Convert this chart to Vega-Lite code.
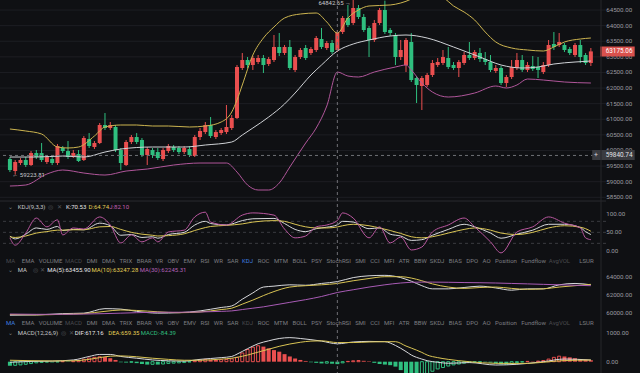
{
"$schema":"https://vega.github.io/schema/vega-lite/v6.json",
"width":606,"height":373,
"autosize":{"type":"none"},
"padding":{"left":0,"top":0,"right":34,"bottom":0},
"background":"#0f1013",
"config":{"view":{"stroke":null},"font":"Roboto",
"line":{"strokeWidth":1,"interpolate":"monotone"},
"text":{"font":"Roboto","fontSize":6,"baseline":"middle","align":"left"}},
"datasets":{
"candles":[{"i":0,"o":59726,"h":59790,"l":59309,"c":59373,"m":-140},
{"i":1,"o":59341,"h":59694,"l":59223.81,"c":59630,"m":-125},
{"i":2,"o":59598,"h":59758,"l":59534,"c":59694,"m":-110},
{"i":3,"o":59694,"h":59790,"l":59470,"c":59534,"m":-90},
{"i":4,"o":59534,"h":59982,"l":59502,"c":59918,"m":-65},
{"i":5,"o":59918,"h":60014,"l":59726,"c":59790,"m":-40},
{"i":6,"o":59918,"h":60239,"l":59630,"c":59694,"m":-25},
{"i":7,"o":59630,"h":59854,"l":59566,"c":59790,"m":-15},
{"i":8,"o":59726,"h":59790,"l":59534,"c":59598,"m":-25},
{"i":9,"o":59598,"h":60207,"l":59534,"c":60143,"m":-10},
{"i":10,"o":60079,"h":60143,"l":59918,"c":59982,"m":5},
{"i":11,"o":59982,"h":60303,"l":59726,"c":59790,"m":-10},
{"i":12,"o":59822,"h":60014,"l":59758,"c":59918,"m":20},
{"i":13,"o":59886,"h":60014,"l":59630,"c":59662,"m":45},
{"i":14,"o":59694,"h":60463,"l":59662,"c":60399,"m":85},
{"i":15,"o":60367,"h":60559,"l":60079,"c":60143,"m":125},
{"i":16,"o":60111,"h":60303,"l":60046,"c":60239,"m":150},
{"i":17,"o":60239,"h":60880,"l":60207,"c":60816,"m":170},
{"i":18,"o":60816,"h":61200,"l":60656,"c":60720,"m":160},
{"i":19,"o":60720,"h":60912,"l":60656,"c":60816,"m":120},
{"i":20,"o":60752,"h":60816,"l":59950,"c":60014,"m":60},
{"i":21,"o":60014,"h":60079,"l":59373,"c":59598,"m":-20},
{"i":22,"o":59534,"h":60335,"l":59502,"c":60271,"m":-30},
{"i":23,"o":60271,"h":60495,"l":60207,"c":60431,"m":-20},
{"i":24,"o":60431,"h":60559,"l":60207,"c":60271,"m":-50},
{"i":25,"o":60335,"h":60399,"l":59790,"c":59854,"m":-80},
{"i":26,"o":59854,"h":60111,"l":59534,"c":60046,"m":-100},
{"i":27,"o":60014,"h":60079,"l":59758,"c":59854,"m":-90},
{"i":28,"o":59950,"h":60079,"l":59694,"c":59758,"m":-100},
{"i":29,"o":59726,"h":60079,"l":59662,"c":60014,"m":-80},
{"i":30,"o":59982,"h":60207,"l":59918,"c":60143,"m":-60},
{"i":31,"o":60111,"h":60175,"l":59950,"c":60014,"m":-50},
{"i":32,"o":60079,"h":60143,"l":59886,"c":59950,"m":-40},
{"i":33,"o":59950,"h":60143,"l":59886,"c":60079,"m":-30},
{"i":34,"o":60046,"h":60143,"l":59790,"c":59854,"m":-10},
{"i":35,"o":59822,"h":60495,"l":59790,"c":60431,"m":30},
{"i":36,"o":60431,"h":60720,"l":60335,"c":60624,"m":60},
{"i":37,"o":60591,"h":60912,"l":60527,"c":60816,"m":80},
{"i":38,"o":60816,"h":61072,"l":60399,"c":60463,"m":70},
{"i":39,"o":60431,"h":60656,"l":60367,"c":60591,"m":60},
{"i":40,"o":60559,"h":60720,"l":60495,"c":60656,"m":70},
{"i":41,"o":60591,"h":61457,"l":60527,"c":60752,"m":80},
{"i":42,"o":60720,"h":61136,"l":60656,"c":61040,"m":100},
{"i":43,"o":61040,"h":62739,"l":61008,"c":62675,"m":150},
{"i":44,"o":62643,"h":63123,"l":62579,"c":62899,"m":300},
{"i":45,"o":62899,"h":62995,"l":62643,"c":62739,"m":420},
{"i":46,"o":62739,"h":63027,"l":62579,"c":62963,"m":500},
{"i":47,"o":62835,"h":63059,"l":62771,"c":62963,"m":550},
{"i":48,"o":62963,"h":63059,"l":62482,"c":62739,"m":520},
{"i":49,"o":62771,"h":62995,"l":62707,"c":62931,"m":460},
{"i":50,"o":62899,"h":63700,"l":62835,"c":63316,"m":400},
{"i":51,"o":63316,"h":63764,"l":63027,"c":63123,"m":345},
{"i":52,"o":63123,"h":63380,"l":63059,"c":63316,"m":260},
{"i":53,"o":63316,"h":63540,"l":62579,"c":62643,"m":180},
{"i":54,"o":62579,"h":63059,"l":62514,"c":62995,"m":110},
{"i":55,"o":62995,"h":63284,"l":62931,"c":63220,"m":60},
{"i":56,"o":63284,"h":63380,"l":62899,"c":62963,"m":25},
{"i":57,"o":63123,"h":63316,"l":63059,"c":63252,"m":-20},
{"i":58,"o":63220,"h":63668,"l":63155,"c":63604,"m":-40},
{"i":59,"o":63572,"h":63925,"l":63252,"c":63316,"m":-60},
{"i":60,"o":63284,"h":63508,"l":63220,"c":63444,"m":-50},
{"i":61,"o":63444,"h":63540,"l":63091,"c":63155,"m":-70},
{"i":62,"o":63220,"h":63861,"l":63155,"c":63796,"m":-84.39},
{"i":63,"o":63796,"h":64309,"l":63732,"c":64245,"m":-40},
{"i":64,"o":64245,"h":64662,"l":63957,"c":64021,"m":10},
{"i":65,"o":64085,"h":64842.65,"l":64021,"c":64566,"m":30},
{"i":66,"o":64566,"h":64662,"l":64213,"c":64277,"m":40},
{"i":67,"o":64277,"h":64373,"l":63796,"c":63861,"m":30},
{"i":68,"o":63925,"h":63989,"l":62995,"c":63540,"m":15},
{"i":69,"o":63540,"h":64181,"l":63476,"c":64085,"m":-40},
{"i":70,"o":64085,"h":64566,"l":64021,"c":64502,"m":-80},
{"i":71,"o":64502,"h":64800,"l":63732,"c":63796,"m":-100},
{"i":72,"o":63861,"h":63925,"l":63668,"c":63764,"m":-120},
{"i":73,"o":63700,"h":63764,"l":62739,"c":62995,"m":-170},
{"i":74,"o":62995,"h":63540,"l":62899,"c":63220,"m":-290},
{"i":75,"o":62739,"h":63604,"l":62514,"c":63540,"m":-400},
{"i":76,"o":63476,"h":63764,"l":62194,"c":62258,"m":-460},
{"i":77,"o":62322,"h":62386,"l":61521,"c":62098,"m":-480},
{"i":78,"o":62066,"h":62386,"l":61297,"c":62322,"m":-460},
{"i":79,"o":62098,"h":62482,"l":62034,"c":62418,"m":-420},
{"i":80,"o":62418,"h":62899,"l":62354,"c":62803,"m":-330},
{"i":81,"o":62739,"h":62963,"l":62675,"c":62835,"m":-250},
{"i":82,"o":62803,"h":63220,"l":62739,"c":62995,"m":-200},
{"i":83,"o":62963,"h":63316,"l":62611,"c":62675,"m":-150},
{"i":84,"o":62739,"h":62835,"l":62579,"c":62643,"m":-110},
{"i":85,"o":62643,"h":62899,"l":62354,"c":62835,"m":-80},
{"i":86,"o":62803,"h":63155,"l":62739,"c":63059,"m":-50},
{"i":87,"o":63059,"h":63476,"l":62899,"c":62963,"m":-30},
{"i":88,"o":62963,"h":63220,"l":62899,"c":63155,"m":-20},
{"i":89,"o":63123,"h":63284,"l":62835,"c":62931,"m":-10},
{"i":90,"o":62931,"h":63155,"l":62739,"c":62835,"m":-15},
{"i":91,"o":62835,"h":63059,"l":62514,"c":62579,"m":-30},
{"i":92,"o":62546,"h":62739,"l":62482,"c":62643,"m":-60},
{"i":93,"o":62643,"h":62707,"l":62098,"c":62162,"m":-90},
{"i":94,"o":62162,"h":62418,"l":62034,"c":62354,"m":-100},
{"i":95,"o":62354,"h":62899,"l":62290,"c":62675,"m":-60},
{"i":96,"o":62643,"h":63123,"l":62579,"c":62899,"m":-30},
{"i":97,"o":62899,"h":63059,"l":62514,"c":62579,"m":-10},
{"i":98,"o":62579,"h":62835,"l":62514,"c":62739,"m":10},
{"i":99,"o":62707,"h":63027,"l":62546,"c":62611,"m":10},
{"i":100,"o":62675,"h":62995,"l":62322,"c":62579,"m":20},
{"i":101,"o":62514,"h":62835,"l":62450,"c":62739,"m":40},
{"i":102,"o":62739,"h":63540,"l":62675,"c":63380,"m":90},
{"i":103,"o":63412,"h":63796,"l":63220,"c":63316,"m":150},
{"i":104,"o":63380,"h":63764,"l":63316,"c":63476,"m":190},
{"i":105,"o":63380,"h":63444,"l":63155,"c":63220,"m":180},
{"i":106,"o":63252,"h":63316,"l":63059,"c":63123,"m":150},
{"i":107,"o":63059,"h":63444,"l":62995,"c":63380,"m":120},
{"i":108,"o":63380,"h":63540,"l":62803,"c":62995,"m":90},
{"i":109,"o":63059,"h":63123,"l":62739,"c":62803,"m":70},
{"i":110,"o":62803,"h":63284,"l":62707,"c":63175.06,"m":50}],
"bollUp":[{"i":0,"v":60688},{"i":3,"v":60624},{"i":6,"v":60527},{"i":9,"v":60111},{"i":11,"v":60079},{"i":13,"v":60111},{"i":16,"v":60463},{"i":18,"v":60752},{"i":21,"v":60816},{"i":24,"v":60816},{"i":27,"v":60784},{"i":30,"v":60784},{"i":34,"v":60752},{"i":37,"v":60784},{"i":40,"v":60912},{"i":42,"v":61233},{"i":43,"v":61617},{"i":44,"v":62098},{"i":46,"v":63059},{"i":48,"v":63604},{"i":50,"v":63957},{"i":52,"v":64245},{"i":55,"v":64373},{"i":58,"v":64405},{"i":60,"v":64117},{"i":62,"v":63764},{"i":64,"v":64245},{"i":66,"v":64502},{"i":68,"v":64630},{"i":72,"v":64662},{"i":74,"v":64726},{"i":76,"v":64854},{"i":78,"v":65078},{"i":80,"v":65110},{"i":82,"v":64918},{"i":84,"v":64630},{"i":86,"v":64437},{"i":88,"v":64181},{"i":90,"v":63796},{"i":92,"v":63476},{"i":95,"v":63284},{"i":98,"v":63220},{"i":101,"v":63187},{"i":103,"v":63316},{"i":105,"v":63476},{"i":108,"v":63572},{"i":110,"v":63604}],
"bollMid":[{"i":0,"v":59790},{"i":5,"v":59790},{"i":10,"v":59822},{"i":14,"v":59790},{"i":18,"v":59950},{"i":21,"v":60046},{"i":27,"v":60111},{"i":33,"v":60111},{"i":37,"v":60175},{"i":42,"v":60271},{"i":44,"v":60495},{"i":46,"v":60720},{"i":49,"v":61072},{"i":52,"v":61489},{"i":54,"v":61841},{"i":57,"v":62418},{"i":59,"v":62739},{"i":62,"v":63187},{"i":65,"v":63412},{"i":68,"v":63540},{"i":72,"v":63668},{"i":75,"v":63700},{"i":79,"v":63604},{"i":84,"v":63316},{"i":89,"v":62995},{"i":93,"v":62739},{"i":97,"v":62643},{"i":100,"v":62675},{"i":103,"v":62771},{"i":107,"v":62835},{"i":110,"v":62867}],
"bollLow":[{"i":0,"v":58861},{"i":3,"v":58893},{"i":7,"v":59245},{"i":10,"v":59374},{"i":14,"v":59277},{"i":18,"v":59213},{"i":22,"v":59341},{"i":26,"v":59405},{"i":31,"v":59534},{"i":36,"v":59598},{"i":41,"v":59598},{"i":43,"v":59309},{"i":45,"v":58893},{"i":47,"v":58733},{"i":49,"v":58733},{"i":51,"v":58957},{"i":53,"v":59470},{"i":56,"v":60239},{"i":58,"v":60720},{"i":60,"v":61425},{"i":62,"v":62514},{"i":64,"v":62386},{"i":66,"v":62354},{"i":69,"v":62514},{"i":73,"v":62675},{"i":75,"v":62739},{"i":76,"v":62579},{"i":78,"v":62162},{"i":80,"v":61873},{"i":83,"v":61713},{"i":88,"v":61841},{"i":92,"v":62066},{"i":94,"v":62002},{"i":96,"v":62098},{"i":98,"v":62290},{"i":101,"v":62258},{"i":105,"v":62194},{"i":110,"v":62162}],
"kdj":[{"i":0,"k":40,"d":38,"j":35},{"i":1,"k":32,"d":36,"j":15},{"i":3,"k":45,"d":40,"j":48},{"i":5,"k":62,"d":48,"j":89},{"i":7,"k":58,"d":52,"j":65},{"i":9,"k":66,"d":56,"j":84},{"i":10,"k":55,"d":56,"j":43},{"i":12,"k":58,"d":57,"j":62},{"i":14,"k":57,"d":57,"j":59},{"i":17,"k":75,"d":65,"j":92},{"i":19,"k":68,"d":66,"j":70},{"i":21,"k":42,"d":58,"j":21},{"i":23,"k":44,"d":50,"j":43},{"i":25,"k":36,"d":45,"j":24},{"i":27,"k":38,"d":42,"j":35},{"i":28,"k":34,"d":40,"j":24},{"i":30,"k":44,"d":41,"j":51},{"i":33,"k":50,"d":46,"j":56},{"i":35,"k":70,"d":55,"j":92},{"i":37,"k":80,"d":63,"j":105},{"i":38,"k":74,"d":66,"j":78},{"i":41,"k":70,"d":69,"j":70},{"i":44,"k":82,"d":73,"j":97},{"i":46,"k":87,"d":78,"j":103},{"i":50,"k":88,"d":82,"j":97},{"i":52,"k":74,"d":80,"j":59},{"i":54,"k":58,"d":72,"j":35},{"i":56,"k":52,"d":65,"j":40},{"i":58,"k":60,"d":62,"j":65},{"i":60,"k":64,"d":62,"j":70},{"i":62,"k":70.53,"d":64.74,"j":82.1},{"i":63,"k":80,"d":68,"j":103},{"i":65,"k":78,"d":72,"j":89},{"i":68,"k":60,"d":68,"j":35},{"i":70,"k":62,"d":62,"j":65},{"i":72,"k":45,"d":55,"j":21},{"i":74,"k":40,"d":47,"j":37},{"i":76,"k":28,"d":38,"j":2},{"i":78,"k":30,"d":35,"j":10},{"i":80,"k":42,"d":38,"j":51},{"i":83,"k":58,"d":48,"j":70},{"i":86,"k":72,"d":58,"j":89},{"i":88,"k":65,"d":62,"j":65},{"i":91,"k":48,"d":56,"j":24},{"i":93,"k":34,"d":48,"j":-6},{"i":96,"k":45,"d":44,"j":51},{"i":99,"k":56,"d":50,"j":65},{"i":102,"k":72,"d":62,"j":92},{"i":105,"k":72,"d":68,"j":75},{"i":108,"k":63,"d":64,"j":62},{"i":109,"k":52,"d":60,"j":35},{"i":110,"k":44,"d":53,"j":30}],
"ma":[{"i":0,"ma5":59720,"ma10":59800,"ma30":59850},{"i":5,"ma5":59750,"ma10":59760,"ma30":59820},{"i":10,"ma5":59900,"ma10":59820,"ma30":59820},{"i":14,"ma5":59950,"ma10":59900,"ma30":59850},{"i":18,"ma5":60450,"ma10":60150,"ma30":59900},{"i":21,"ma5":60400,"ma10":60300,"ma30":59950},{"i":24,"ma5":60150,"ma10":60250,"ma30":60000},{"i":28,"ma5":59950,"ma10":60100,"ma30":60050},{"i":32,"ma5":60000,"ma10":60000,"ma30":60050},{"i":36,"ma5":60200,"ma10":60080,"ma30":60080},{"i":40,"ma5":60580,"ma10":60350,"ma30":60150},{"i":42,"ma5":60750,"ma10":60500,"ma30":60200},{"i":44,"ma5":61500,"ma10":60950,"ma30":60350},{"i":46,"ma5":62200,"ma10":61400,"ma30":60500},{"i":48,"ma5":62850,"ma10":61900,"ma30":60650},{"i":50,"ma5":62950,"ma10":62350,"ma30":60850},{"i":53,"ma5":63100,"ma10":62850,"ma30":61150},{"i":56,"ma5":63050,"ma10":63000,"ma30":61450},{"i":59,"ma5":63250,"ma10":63100,"ma30":61800},{"i":62,"ma5":63455.9,"ma10":63247.28,"ma30":62245.31},{"i":65,"ma5":63900,"ma10":63550,"ma30":62550},{"i":68,"ma5":64100,"ma10":63800,"ma30":62850},{"i":71,"ma5":64150,"ma10":64000,"ma30":63100},{"i":74,"ma5":63900,"ma10":64000,"ma30":63300},{"i":76,"ma5":63500,"ma10":63850,"ma30":63380},{"i":78,"ma5":63000,"ma10":63550,"ma30":63400},{"i":80,"ma5":62650,"ma10":63200,"ma30":63400},{"i":83,"ma5":62650,"ma10":62850,"ma30":63380},{"i":86,"ma5":62800,"ma10":62700,"ma30":63350},{"i":89,"ma5":62950,"ma10":62800,"ma30":63330},{"i":92,"ma5":62750,"ma10":62850,"ma30":63300},{"i":95,"ma5":62500,"ma10":62700,"ma30":63250},{"i":98,"ma5":62650,"ma10":62600,"ma30":63200},{"i":101,"ma5":62650,"ma10":62650,"ma30":63150},{"i":104,"ma5":63100,"ma10":62850,"ma30":63100},{"i":107,"ma5":63250,"ma10":63000,"ma30":63050},{"i":110,"ma5":63100,"ma10":63150,"ma30":63000}],
"macd":[{"i":0,"dif":-20,"dea":50},{"i":4,"dif":10,"dea":35},{"i":8,"dif":20,"dea":25},{"i":12,"dif":60,"dea":30},{"i":15,"dif":180,"dea":80},{"i":17,"dif":250,"dea":140},{"i":19,"dif":250,"dea":190},{"i":21,"dif":180,"dea":200},{"i":24,"dif":120,"dea":170},{"i":27,"dif":60,"dea":120},{"i":30,"dif":30,"dea":80},{"i":33,"dif":20,"dea":50},{"i":36,"dif":80,"dea":50},{"i":40,"dif":140,"dea":90},{"i":42,"dif":180,"dea":120},{"i":43,"dif":260,"dea":150},{"i":45,"dif":450,"dea":230},{"i":47,"dif":620,"dea":330},{"i":49,"dif":720,"dea":430},{"i":51,"dif":800,"dea":530},{"i":53,"dif":830,"dea":610},{"i":55,"dif":800,"dea":670},{"i":57,"dif":760,"dea":710},{"i":59,"dif":710,"dea":720},{"i":62,"dif":617.16,"dea":659.35},{"i":65,"dif":680,"dea":660},{"i":68,"dif":700,"dea":680},{"i":71,"dif":690,"dea":690},{"i":73,"dif":560,"dea":690},{"i":75,"dif":350,"dea":540},{"i":76,"dif":230,"dea":470},{"i":78,"dif":90,"dea":320},{"i":79,"dif":35,"dea":230},{"i":81,"dif":-20,"dea":140},{"i":83,"dif":-55,"dea":80},{"i":87,"dif":-30,"dea":0},{"i":92,"dif":-115,"dea":-57},{"i":96,"dif":-90,"dea":-60},{"i":98,"dif":-60,"dea":-57},{"i":101,"dif":0,"dea":-20},{"i":105,"dif":92,"dea":40},{"i":110,"dif":58,"dea":57}],
"priceTicks":[{"v":58500},{"v":59000},{"v":59500},{"v":60000},{"v":60500},{"v":61000},{"v":61500},{"v":62000},{"v":62500},{"v":63000},{"v":63500},{"v":64000},{"v":64500}]
},
"layer":[
{"layer":[
 {"data":{"name":"priceTicks"},"mark":{"type":"rule","color":"#1d1e23","strokeWidth":1},"encoding":{"y":{"field":"v","type":"quantitative","scale":{"domain":[58413,64822],"range":[200,0],"nice":false,"zero":false},"axis":null}}},
 {"data":{"name":"candles"},"mark":{"type":"rule","strokeWidth":1},"encoding":{"x":{"field":"i","type":"quantitative","scale":{"domain":[-0.93,111.92],"nice":false,"zero":false},"axis":null},"y":{"field":"l","type":"quantitative","scale":{"domain":[58413,64822],"range":[200,0],"nice":false,"zero":false}},"y2":{"field":"h"},"color":{"condition":{"test":"datum.c >= datum.o","value":"#ea4f4f"},"value":"#2fbf7f"}}},
 {"data":{"name":"candles"},"mark":{"type":"bar","width":4},"encoding":{"x":{"field":"i","type":"quantitative","scale":{"domain":[-0.93,111.92],"nice":false,"zero":false},"axis":null},"y":{"field":"o","type":"quantitative","scale":{"domain":[58413,64822],"range":[200,0],"nice":false,"zero":false}},"y2":{"field":"c"},"color":{"condition":{"test":"datum.c >= datum.o","value":"#ea4f4f"},"value":"#2fbf7f"}}},
 {"data":{"name":"bollUp"},"mark":{"type":"line","color":"#cdb550"},"encoding":{"x":{"field":"i","type":"quantitative","scale":{"domain":[-0.93,111.92],"nice":false,"zero":false},"axis":null},"y":{"field":"v","type":"quantitative","scale":{"domain":[58413,64822],"range":[200,0],"nice":false,"zero":false}}}},
 {"data":{"name":"bollMid"},"mark":{"type":"line","color":"#cfd2d6"},"encoding":{"x":{"field":"i","type":"quantitative","scale":{"domain":[-0.93,111.92],"nice":false,"zero":false},"axis":null},"y":{"field":"v","type":"quantitative","scale":{"domain":[58413,64822],"range":[200,0],"nice":false,"zero":false}}}},
 {"data":{"name":"bollLow"},"mark":{"type":"line","color":"#b0569a"},"encoding":{"x":{"field":"i","type":"quantitative","scale":{"domain":[-0.93,111.92],"nice":false,"zero":false},"axis":null},"y":{"field":"v","type":"quantitative","scale":{"domain":[58413,64822],"range":[200,0],"nice":false,"zero":false}}}},
 {"data":{"values":[{}]},"mark":{"type":"rule","color":"#6f7075","strokeDash":[3,3],"strokeWidth":1},"encoding":{"y":{"datum":59840.74,"type":"quantitative","scale":{"domain":[58413,64822],"range":[200,0],"nice":false,"zero":false}}}},
 {"data":{"values":[{}]},"mark":{"type":"rule","color":"#2a2b30","strokeWidth":1},"encoding":{"y":{"datum":58380,"type":"quantitative","scale":{"domain":[58413,64822],"range":[200,0],"nice":false,"zero":false}}}},
 {"data":{"values":[{}]},"mark":{"type":"text","text":"\u2190 59223.81","color":"#c8c9cc"},"encoding":{"x":{"datum":0.45,"type":"quantitative","scale":{"domain":[-0.93,111.92],"nice":false,"zero":false},"axis":null},"y":{"datum":59223.81,"type":"quantitative","scale":{"domain":[58413,64822],"range":[200,0],"nice":false,"zero":false}}}},
 {"data":{"values":[{}]},"mark":{"type":"text","text":"64842.65 \u2192","color":"#c8c9cc","align":"right","baseline":"top","dy":0.7},"encoding":{"x":{"datum":64.6,"type":"quantitative","scale":{"domain":[-0.93,111.92],"nice":false,"zero":false},"axis":null},"y":{"datum":64842.65,"type":"quantitative","scale":{"domain":[58413,64822],"range":[200,0],"nice":false,"zero":false}}}},
 {"data":{"name":"priceTicks"},"mark":{"type":"text","color":"#9a9ba0","fontSize":6.2},"encoding":{"x":{"datum":112.9,"type":"quantitative","scale":{"domain":[-0.93,111.92],"nice":false,"zero":false},"axis":null},"y":{"field":"v","type":"quantitative","scale":{"domain":[58413,64822],"range":[200,0],"nice":false,"zero":false}},"text":{"field":"v","type":"quantitative","format":".2f"}}},
 {"data":{"values":[{}]},"mark":{"type":"rect","color":"#d9514d"},"encoding":{"x":{"datum":111.75,"type":"quantitative","scale":{"domain":[-0.93,111.92],"nice":false,"zero":false},"axis":null},"x2":{"datum":118.3},"y":{"datum":63332,"type":"quantitative","scale":{"domain":[58413,64822],"range":[200,0],"nice":false,"zero":false}},"y2":{"datum":63011}}},
 {"data":{"values":[{}]},"mark":{"type":"text","text":"63175.06","color":"#ffffff","fontSize":6.4},"encoding":{"x":{"datum":112.8,"type":"quantitative","scale":{"domain":[-0.93,111.92],"nice":false,"zero":false},"axis":null},"y":{"datum":63175.06,"type":"quantitative","scale":{"domain":[58413,64822],"range":[200,0],"nice":false,"zero":false}}}},
 {"data":{"values":[{}]},"mark":{"type":"rect","color":"#3a3b40"},"encoding":{"x":{"datum":110.25,"type":"quantitative","scale":{"domain":[-0.93,111.92],"nice":false,"zero":false},"axis":null},"x2":{"datum":118.3},"y":{"datum":60014,"type":"quantitative","scale":{"domain":[58413,64822],"range":[200,0],"nice":false,"zero":false}},"y2":{"datum":59694}}},
 {"data":{"values":[{}]},"mark":{"type":"text","text":"+","color":"#d0d1d4","align":"center","fontSize":7},"encoding":{"x":{"datum":110.98,"type":"quantitative","scale":{"domain":[-0.93,111.92],"nice":false,"zero":false},"axis":null},"y":{"datum":59854,"type":"quantitative","scale":{"domain":[58413,64822],"range":[200,0],"nice":false,"zero":false}}}},
 {"data":{"values":[{}]},"mark":{"type":"text","text":"59840.74","color":"#e0e1e4","fontSize":6.4},"encoding":{"x":{"datum":112.8,"type":"quantitative","scale":{"domain":[-0.93,111.92],"nice":false,"zero":false},"axis":null},"y":{"datum":59854,"type":"quantitative","scale":{"domain":[58413,64822],"range":[200,0],"nice":false,"zero":false}}}}
]},
{"layer":[
 {"data":{"values":[{"v":20},{"v":50},{"v":80}]},"mark":{"type":"rule","color":"#3a3b40","strokeDash":[3,3],"strokeWidth":1},"encoding":{"y":{"field":"v","type":"quantitative","scale":{"domain":[-17.2,132.7],"range":[257,202],"nice":false,"zero":false},"axis":null}}},
 {"data":{"name":"kdj"},"mark":{"type":"line","color":"#d8d9dc"},"encoding":{"x":{"field":"i","type":"quantitative","scale":{"domain":[-0.93,111.92],"nice":false,"zero":false},"axis":null},"y":{"field":"k","type":"quantitative","scale":{"domain":[-17.2,132.7],"range":[257,202],"nice":false,"zero":false}}}},
 {"data":{"name":"kdj"},"mark":{"type":"line","color":"#d9c454"},"encoding":{"x":{"field":"i","type":"quantitative","scale":{"domain":[-0.93,111.92],"nice":false,"zero":false},"axis":null},"y":{"field":"d","type":"quantitative","scale":{"domain":[-17.2,132.7],"range":[257,202],"nice":false,"zero":false}}}},
 {"data":{"name":"kdj"},"mark":{"type":"line","color":"#b9579f"},"encoding":{"x":{"field":"i","type":"quantitative","scale":{"domain":[-0.93,111.92],"nice":false,"zero":false},"axis":null},"y":{"field":"j","type":"quantitative","scale":{"domain":[-17.2,132.7],"range":[257,202],"nice":false,"zero":false}}}},
 {"data":{"values":[{"v":0},{"v":50},{"v":100}]},"mark":{"type":"text","color":"#9a9ba0","fontSize":6.2},"encoding":{"x":{"datum":112.9,"type":"quantitative","scale":{"domain":[-0.93,111.92],"nice":false,"zero":false},"axis":null},"y":{"field":"v","type":"quantitative","scale":{"domain":[-17.2,132.7],"range":[257,202],"nice":false,"zero":false}},"text":{"field":"v","type":"quantitative","format":".2f"}}},
 {"data":{"values":[{}]},"mark":{"type":"text","text":"\u2304","color":"#7d7e82"},"encoding":{"x":{"datum":-0.45,"type":"quantitative","scale":{"domain":[-0.93,111.92],"nice":false,"zero":false},"axis":null},"y":{"datum":119.9,"type":"quantitative","scale":{"domain":[-17.2,132.7],"range":[257,202],"nice":false,"zero":false}}}},
 {"data":{"values":[{}]},"mark":{"type":"text","text":"KDJ(9,3,3)","color":"#c5c6c9"},"encoding":{"x":{"datum":1.49,"type":"quantitative","scale":{"domain":[-0.93,111.92],"nice":false,"zero":false},"axis":null},"y":{"datum":119.9,"type":"quantitative","scale":{"domain":[-17.2,132.7],"range":[257,202],"nice":false,"zero":false}}}},
 {"data":{"values":[{}]},"mark":{"type":"text","text":"\u25ce","color":"#55565a"},"encoding":{"x":{"datum":7.26,"type":"quantitative","scale":{"domain":[-0.93,111.92],"nice":false,"zero":false},"axis":null},"y":{"datum":119.9,"type":"quantitative","scale":{"domain":[-17.2,132.7],"range":[257,202],"nice":false,"zero":false}}}},
 {"data":{"values":[{}]},"mark":{"type":"text","text":"\u2715","color":"#55565a"},"encoding":{"x":{"datum":8.94,"type":"quantitative","scale":{"domain":[-0.93,111.92],"nice":false,"zero":false},"axis":null},"y":{"datum":119.9,"type":"quantitative","scale":{"domain":[-17.2,132.7],"range":[257,202],"nice":false,"zero":false}}}},
 {"data":{"values":[{}]},"mark":{"type":"text","text":"K:70.53","color":"#e6e6e8"},"encoding":{"x":{"datum":10.62,"type":"quantitative","scale":{"domain":[-0.93,111.92],"nice":false,"zero":false},"axis":null},"y":{"datum":119.9,"type":"quantitative","scale":{"domain":[-17.2,132.7],"range":[257,202],"nice":false,"zero":false}}}},
 {"data":{"values":[{}]},"mark":{"type":"text","text":"D:64.74","color":"#e3cf55"},"encoding":{"x":{"datum":14.9,"type":"quantitative","scale":{"domain":[-0.93,111.92],"nice":false,"zero":false},"axis":null},"y":{"datum":119.9,"type":"quantitative","scale":{"domain":[-17.2,132.7],"range":[257,202],"nice":false,"zero":false}}}},
 {"data":{"values":[{}]},"mark":{"type":"text","text":"J:82.10","color":"#c25fb0"},"encoding":{"x":{"datum":18.81,"type":"quantitative","scale":{"domain":[-0.93,111.92],"nice":false,"zero":false},"axis":null},"y":{"datum":119.9,"type":"quantitative","scale":{"domain":[-17.2,132.7],"range":[257,202],"nice":false,"zero":false}}}},
 {"data":{"values":[{}]},"mark":{"type":"text","text":"MA","color":"#4a4b4f"},"encoding":{"x":{"datum":-0.74,"type":"quantitative","scale":{"domain":[-0.93,111.92],"nice":false,"zero":false},"axis":null},"y":{"datum":-27.2,"type":"quantitative","scale":{"domain":[-17.2,132.7],"range":[257,202],"nice":false,"zero":false}}}},
 {"data":{"values":[{}]},"mark":{"type":"text","text":"EMA\u00a0\u00a0\u00a0VOLUME","color":"#7d7e82"},"encoding":{"x":{"datum":2.24,"type":"quantitative","scale":{"domain":[-0.93,111.92],"nice":false,"zero":false},"axis":null},"y":{"datum":-27.2,"type":"quantitative","scale":{"domain":[-17.2,132.7],"range":[257,202],"nice":false,"zero":false}}}},
 {"data":{"values":[{}]},"mark":{"type":"text","text":"MACD","color":"#4a4b4f"},"encoding":{"x":{"datum":10.43,"type":"quantitative","scale":{"domain":[-0.93,111.92],"nice":false,"zero":false},"axis":null},"y":{"datum":-27.2,"type":"quantitative","scale":{"domain":[-17.2,132.7],"range":[257,202],"nice":false,"zero":false}}}},
 {"data":{"values":[{}]},"mark":{"type":"text","text":"DMI\u00a0\u00a0\u00a0DMA\u00a0\u00a0\u00a0TRIX\u00a0\u00a0\u00a0BRAR","color":"#7d7e82"},"encoding":{"x":{"datum":14.53,"type":"quantitative","scale":{"domain":[-0.93,111.92],"nice":false,"zero":false},"axis":null},"y":{"datum":-27.2,"type":"quantitative","scale":{"domain":[-17.2,132.7],"range":[257,202],"nice":false,"zero":false}}}},
 {"data":{"values":[{}]},"mark":{"type":"text","text":"VR\u00a0\u00a0\u00a0OBV\u00a0\u00a0\u00a0EMV\u00a0\u00a0\u00a0RSI\u00a0\u00a0\u00a0WR\u00a0\u00a0\u00a0SAR","color":"#7d7e82"},"encoding":{"x":{"datum":27.56,"type":"quantitative","scale":{"domain":[-0.93,111.92],"nice":false,"zero":false},"axis":null},"y":{"datum":-27.2,"type":"quantitative","scale":{"domain":[-17.2,132.7],"range":[257,202],"nice":false,"zero":false}}}},
 {"data":{"values":[{}]},"mark":{"type":"text","text":"KDJ","color":"#3f7fe0"},"encoding":{"x":{"datum":43.95,"type":"quantitative","scale":{"domain":[-0.93,111.92],"nice":false,"zero":false},"axis":null},"y":{"datum":-27.2,"type":"quantitative","scale":{"domain":[-17.2,132.7],"range":[257,202],"nice":false,"zero":false}}}},
 {"data":{"values":[{}]},"mark":{"type":"text","text":"ROC\u00a0\u00a0\u00a0MTM\u00a0\u00a0\u00a0BOLL\u00a0\u00a0\u00a0PSY","color":"#7d7e82"},"encoding":{"x":{"datum":46.93,"type":"quantitative","scale":{"domain":[-0.93,111.92],"nice":false,"zero":false},"axis":null},"y":{"datum":-27.2,"type":"quantitative","scale":{"domain":[-17.2,132.7],"range":[257,202],"nice":false,"zero":false}}}},
 {"data":{"values":[{}]},"mark":{"type":"text","text":"StochRSI\u00a0\u00a0\u00a0SMI\u00a0\u00a0\u00a0CCI\u00a0\u00a0\u00a0MFI\u00a0\u00a0\u00a0ATR\u00a0\u00a0\u00a0BBW","color":"#7d7e82"},"encoding":{"x":{"datum":59.96,"type":"quantitative","scale":{"domain":[-0.93,111.92],"nice":false,"zero":false},"axis":null},"y":{"datum":-27.2,"type":"quantitative","scale":{"domain":[-17.2,132.7],"range":[257,202],"nice":false,"zero":false}}}},
 {"data":{"values":[{}]},"mark":{"type":"text","text":"SKDJ\u00a0\u00a0\u00a0BIAS\u00a0\u00a0\u00a0DPO\u00a0\u00a0\u00a0AO\u00a0\u00a0\u00a0Position\u00a0\u00a0\u00a0Fundflow","color":"#7d7e82"},"encoding":{"x":{"datum":79.51,"type":"quantitative","scale":{"domain":[-0.93,111.92],"nice":false,"zero":false},"axis":null},"y":{"datum":-27.2,"type":"quantitative","scale":{"domain":[-17.2,132.7],"range":[257,202],"nice":false,"zero":false}}}},
 {"data":{"values":[{}]},"mark":{"type":"text","text":"AvgVOL","color":"#4a4b4f"},"encoding":{"x":{"datum":102.05,"type":"quantitative","scale":{"domain":[-0.93,111.92],"nice":false,"zero":false},"axis":null},"y":{"datum":-27.2,"type":"quantitative","scale":{"domain":[-17.2,132.7],"range":[257,202],"nice":false,"zero":false}}}},
 {"data":{"values":[{}]},"mark":{"type":"text","text":"LSUR","color":"#7d7e82"},"encoding":{"x":{"datum":107.8,"type":"quantitative","scale":{"domain":[-0.93,111.92],"nice":false,"zero":false},"axis":null},"y":{"datum":-27.2,"type":"quantitative","scale":{"domain":[-17.2,132.7],"range":[257,202],"nice":false,"zero":false}}}}
]},
{"layer":[
 {"data":{"name":"ma"},"mark":{"type":"line","color":"#d8d9dc"},"encoding":{"x":{"field":"i","type":"quantitative","scale":{"domain":[-0.93,111.92],"nice":false,"zero":false},"axis":null},"y":{"field":"ma5","type":"quantitative","scale":{"domain":[59411,65189],"range":[318,266],"nice":false,"zero":false},"axis":null}}},
 {"data":{"name":"ma"},"mark":{"type":"line","color":"#d9c454"},"encoding":{"x":{"field":"i","type":"quantitative","scale":{"domain":[-0.93,111.92],"nice":false,"zero":false},"axis":null},"y":{"field":"ma10","type":"quantitative","scale":{"domain":[59411,65189],"range":[318,266],"nice":false,"zero":false}}}},
 {"data":{"name":"ma"},"mark":{"type":"line","color":"#a85bb5"},"encoding":{"x":{"field":"i","type":"quantitative","scale":{"domain":[-0.93,111.92],"nice":false,"zero":false},"axis":null},"y":{"field":"ma30","type":"quantitative","scale":{"domain":[59411,65189],"range":[318,266],"nice":false,"zero":false}}}},
 {"data":{"values":[{"v":60000},{"v":62000},{"v":64000}]},"mark":{"type":"text","color":"#9a9ba0","fontSize":6.2},"encoding":{"x":{"datum":112.9,"type":"quantitative","scale":{"domain":[-0.93,111.92],"nice":false,"zero":false},"axis":null},"y":{"field":"v","type":"quantitative","scale":{"domain":[59411,65189],"range":[318,266],"nice":false,"zero":false}},"text":{"field":"v","type":"quantitative","format":".2f"}}},
 {"data":{"values":[{}]},"mark":{"type":"text","text":"\u2304","color":"#7d7e82"},"encoding":{"x":{"datum":-0.45,"type":"quantitative","scale":{"domain":[-0.93,111.92],"nice":false,"zero":false},"axis":null},"y":{"datum":64744,"type":"quantitative","scale":{"domain":[59411,65189],"range":[318,266],"nice":false,"zero":false}}}},
 {"data":{"values":[{}]},"mark":{"type":"text","text":"MA","color":"#c5c6c9"},"encoding":{"x":{"datum":1.49,"type":"quantitative","scale":{"domain":[-0.93,111.92],"nice":false,"zero":false},"axis":null},"y":{"datum":64744,"type":"quantitative","scale":{"domain":[59411,65189],"range":[318,266],"nice":false,"zero":false}}}},
 {"data":{"values":[{}]},"mark":{"type":"text","text":"\u25ce","color":"#55565a"},"encoding":{"x":{"datum":4.28,"type":"quantitative","scale":{"domain":[-0.93,111.92],"nice":false,"zero":false},"axis":null},"y":{"datum":64744,"type":"quantitative","scale":{"domain":[59411,65189],"range":[318,266],"nice":false,"zero":false}}}},
 {"data":{"values":[{}]},"mark":{"type":"text","text":"\u2715","color":"#55565a"},"encoding":{"x":{"datum":5.77,"type":"quantitative","scale":{"domain":[-0.93,111.92],"nice":false,"zero":false},"axis":null},"y":{"datum":64744,"type":"quantitative","scale":{"domain":[59411,65189],"range":[318,266],"nice":false,"zero":false}}}},
 {"data":{"values":[{}]},"mark":{"type":"text","text":"MA(5):63455.90","color":"#e6e6e8"},"encoding":{"x":{"datum":7.08,"type":"quantitative","scale":{"domain":[-0.93,111.92],"nice":false,"zero":false},"axis":null},"y":{"datum":64744,"type":"quantitative","scale":{"domain":[59411,65189],"range":[318,266],"nice":false,"zero":false}}}},
 {"data":{"values":[{}]},"mark":{"type":"text","text":"MA(10):63247.28","color":"#e3cf55"},"encoding":{"x":{"datum":15.46,"type":"quantitative","scale":{"domain":[-0.93,111.92],"nice":false,"zero":false},"axis":null},"y":{"datum":64744,"type":"quantitative","scale":{"domain":[59411,65189],"range":[318,266],"nice":false,"zero":false}}}},
 {"data":{"values":[{}]},"mark":{"type":"text","text":"MA(30):62245.31","color":"#b461b8"},"encoding":{"x":{"datum":24.58,"type":"quantitative","scale":{"domain":[-0.93,111.92],"nice":false,"zero":false},"axis":null},"y":{"datum":64744,"type":"quantitative","scale":{"domain":[59411,65189],"range":[318,266],"nice":false,"zero":false}}}},
 {"data":{"values":[{}]},"mark":{"type":"text","text":"MA","color":"#3f7fe0"},"encoding":{"x":{"datum":-0.74,"type":"quantitative","scale":{"domain":[-0.93,111.92],"nice":false,"zero":false},"axis":null},"y":{"datum":58822,"type":"quantitative","scale":{"domain":[59411,65189],"range":[318,266],"nice":false,"zero":false}}}},
 {"data":{"values":[{}]},"mark":{"type":"text","text":"EMA\u00a0\u00a0\u00a0VOLUME","color":"#7d7e82"},"encoding":{"x":{"datum":2.24,"type":"quantitative","scale":{"domain":[-0.93,111.92],"nice":false,"zero":false},"axis":null},"y":{"datum":58822,"type":"quantitative","scale":{"domain":[59411,65189],"range":[318,266],"nice":false,"zero":false}}}},
 {"data":{"values":[{}]},"mark":{"type":"text","text":"MACD","color":"#4a4b4f"},"encoding":{"x":{"datum":10.43,"type":"quantitative","scale":{"domain":[-0.93,111.92],"nice":false,"zero":false},"axis":null},"y":{"datum":58822,"type":"quantitative","scale":{"domain":[59411,65189],"range":[318,266],"nice":false,"zero":false}}}},
 {"data":{"values":[{}]},"mark":{"type":"text","text":"DMI\u00a0\u00a0\u00a0DMA\u00a0\u00a0\u00a0TRIX\u00a0\u00a0\u00a0BRAR","color":"#7d7e82"},"encoding":{"x":{"datum":14.53,"type":"quantitative","scale":{"domain":[-0.93,111.92],"nice":false,"zero":false},"axis":null},"y":{"datum":58822,"type":"quantitative","scale":{"domain":[59411,65189],"range":[318,266],"nice":false,"zero":false}}}},
 {"data":{"values":[{}]},"mark":{"type":"text","text":"VR\u00a0\u00a0\u00a0OBV\u00a0\u00a0\u00a0EMV\u00a0\u00a0\u00a0RSI\u00a0\u00a0\u00a0WR\u00a0\u00a0\u00a0SAR","color":"#7d7e82"},"encoding":{"x":{"datum":27.56,"type":"quantitative","scale":{"domain":[-0.93,111.92],"nice":false,"zero":false},"axis":null},"y":{"datum":58822,"type":"quantitative","scale":{"domain":[59411,65189],"range":[318,266],"nice":false,"zero":false}}}},
 {"data":{"values":[{}]},"mark":{"type":"text","text":"KDJ","color":"#4a4b4f"},"encoding":{"x":{"datum":43.95,"type":"quantitative","scale":{"domain":[-0.93,111.92],"nice":false,"zero":false},"axis":null},"y":{"datum":58822,"type":"quantitative","scale":{"domain":[59411,65189],"range":[318,266],"nice":false,"zero":false}}}},
 {"data":{"values":[{}]},"mark":{"type":"text","text":"ROC\u00a0\u00a0\u00a0MTM\u00a0\u00a0\u00a0BOLL\u00a0\u00a0\u00a0PSY","color":"#7d7e82"},"encoding":{"x":{"datum":46.93,"type":"quantitative","scale":{"domain":[-0.93,111.92],"nice":false,"zero":false},"axis":null},"y":{"datum":58822,"type":"quantitative","scale":{"domain":[59411,65189],"range":[318,266],"nice":false,"zero":false}}}},
 {"data":{"values":[{}]},"mark":{"type":"text","text":"StochRSI\u00a0\u00a0\u00a0SMI\u00a0\u00a0\u00a0CCI\u00a0\u00a0\u00a0MFI\u00a0\u00a0\u00a0ATR\u00a0\u00a0\u00a0BBW","color":"#7d7e82"},"encoding":{"x":{"datum":59.96,"type":"quantitative","scale":{"domain":[-0.93,111.92],"nice":false,"zero":false},"axis":null},"y":{"datum":58822,"type":"quantitative","scale":{"domain":[59411,65189],"range":[318,266],"nice":false,"zero":false}}}},
 {"data":{"values":[{}]},"mark":{"type":"text","text":"SKDJ\u00a0\u00a0\u00a0BIAS\u00a0\u00a0\u00a0DPO\u00a0\u00a0\u00a0AO\u00a0\u00a0\u00a0Position\u00a0\u00a0\u00a0Fundflow","color":"#7d7e82"},"encoding":{"x":{"datum":79.51,"type":"quantitative","scale":{"domain":[-0.93,111.92],"nice":false,"zero":false},"axis":null},"y":{"datum":58822,"type":"quantitative","scale":{"domain":[59411,65189],"range":[318,266],"nice":false,"zero":false}}}},
 {"data":{"values":[{}]},"mark":{"type":"text","text":"AvgVOL","color":"#4a4b4f"},"encoding":{"x":{"datum":102.05,"type":"quantitative","scale":{"domain":[-0.93,111.92],"nice":false,"zero":false},"axis":null},"y":{"datum":58822,"type":"quantitative","scale":{"domain":[59411,65189],"range":[318,266],"nice":false,"zero":false}}}},
 {"data":{"values":[{}]},"mark":{"type":"text","text":"LSUR","color":"#7d7e82"},"encoding":{"x":{"datum":107.8,"type":"quantitative","scale":{"domain":[-0.93,111.92],"nice":false,"zero":false},"axis":null},"y":{"datum":58822,"type":"quantitative","scale":{"domain":[59411,65189],"range":[318,266],"nice":false,"zero":false}}}}
]},
{"layer":[
 {"data":{"name":"candles"},"transform":[{"window":[{"op":"lag","field":"m","as":"pm"}],"sort":[{"field":"i","order":"ascending"}]},{"filter":"!(datum.pm != null && datum.m > datum.pm)"}],"mark":{"type":"bar","width":4},"encoding":{"x":{"field":"i","type":"quantitative","scale":{"domain":[-0.93,111.92],"nice":false,"zero":false},"axis":null},"y":{"field":"m","type":"quantitative","scale":{"domain":[-390,1162],"range":[373,328],"nice":false,"zero":false},"axis":null},"y2":{"datum":0},"color":{"condition":{"test":"datum.m >= 0","value":"#ea4f4f"},"value":"#2fbf7f"}}},
 {"data":{"name":"candles"},"transform":[{"window":[{"op":"lag","field":"m","as":"pm"}],"sort":[{"field":"i","order":"ascending"}]},{"filter":"datum.pm != null && datum.m > datum.pm"}],"mark":{"type":"bar","width":3,"fillOpacity":0,"strokeWidth":1},"encoding":{"x":{"field":"i","type":"quantitative","scale":{"domain":[-0.93,111.92],"nice":false,"zero":false},"axis":null},"y":{"field":"m","type":"quantitative","scale":{"domain":[-390,1162],"range":[373,328],"nice":false,"zero":false}},"y2":{"datum":0},"stroke":{"condition":{"test":"datum.m >= 0","value":"#ea4f4f"},"value":"#2fbf7f"}}},
 {"data":{"name":"macd"},"mark":{"type":"line","color":"#d8d9dc"},"encoding":{"x":{"field":"i","type":"quantitative","scale":{"domain":[-0.93,111.92],"nice":false,"zero":false},"axis":null},"y":{"field":"dif","type":"quantitative","scale":{"domain":[-390,1162],"range":[373,328],"nice":false,"zero":false}}}},
 {"data":{"name":"macd"},"mark":{"type":"line","color":"#d9c454"},"encoding":{"x":{"field":"i","type":"quantitative","scale":{"domain":[-0.93,111.92],"nice":false,"zero":false},"axis":null},"y":{"field":"dea","type":"quantitative","scale":{"domain":[-390,1162],"range":[373,328],"nice":false,"zero":false}}}},
 {"data":{"values":[{"v":0},{"v":1000}]},"mark":{"type":"text","color":"#9a9ba0","fontSize":6.2},"encoding":{"x":{"datum":112.9,"type":"quantitative","scale":{"domain":[-0.93,111.92],"nice":false,"zero":false},"axis":null},"y":{"field":"v","type":"quantitative","scale":{"domain":[-390,1162],"range":[373,328],"nice":false,"zero":false}},"text":{"field":"v","type":"quantitative","format":".2f"}}},
 {"data":{"values":[{}]},"mark":{"type":"text","text":"\u2304","color":"#7d7e82"},"encoding":{"x":{"datum":-0.45,"type":"quantitative","scale":{"domain":[-0.93,111.92],"nice":false,"zero":false},"axis":null},"y":{"datum":1000,"type":"quantitative","scale":{"domain":[-390,1162],"range":[373,328],"nice":false,"zero":false}}}},
 {"data":{"values":[{}]},"mark":{"type":"text","text":"MACD(12,26,9)","color":"#c5c6c9"},"encoding":{"x":{"datum":1.49,"type":"quantitative","scale":{"domain":[-0.93,111.92],"nice":false,"zero":false},"axis":null},"y":{"datum":1000,"type":"quantitative","scale":{"domain":[-390,1162],"range":[373,328],"nice":false,"zero":false}}}},
 {"data":{"values":[{}]},"mark":{"type":"text","text":"\u25ce","color":"#55565a"},"encoding":{"x":{"datum":9.7,"type":"quantitative","scale":{"domain":[-0.93,111.92],"nice":false,"zero":false},"axis":null},"y":{"datum":1000,"type":"quantitative","scale":{"domain":[-390,1162],"range":[373,328],"nice":false,"zero":false}}}},
 {"data":{"values":[{}]},"mark":{"type":"text","text":"\u2715","color":"#55565a"},"encoding":{"x":{"datum":11.2,"type":"quantitative","scale":{"domain":[-0.93,111.92],"nice":false,"zero":false},"axis":null},"y":{"datum":1000,"type":"quantitative","scale":{"domain":[-390,1162],"range":[373,328],"nice":false,"zero":false}}}},
 {"data":{"values":[{}]},"mark":{"type":"text","text":"DIF:617.16","color":"#e6e6e8"},"encoding":{"x":{"datum":12.29,"type":"quantitative","scale":{"domain":[-0.93,111.92],"nice":false,"zero":false},"axis":null},"y":{"datum":1000,"type":"quantitative","scale":{"domain":[-390,1162],"range":[373,328],"nice":false,"zero":false}}}},
 {"data":{"values":[{}]},"mark":{"type":"text","text":"DEA:659.35","color":"#e3cf55"},"encoding":{"x":{"datum":18.62,"type":"quantitative","scale":{"domain":[-0.93,111.92],"nice":false,"zero":false},"axis":null},"y":{"datum":1000,"type":"quantitative","scale":{"domain":[-390,1162],"range":[373,328],"nice":false,"zero":false}}}},
 {"data":{"values":[{}]},"mark":{"type":"text","text":"MACD:-84.39","color":"#2fbf7f"},"encoding":{"x":{"datum":24.77,"type":"quantitative","scale":{"domain":[-0.93,111.92],"nice":false,"zero":false},"axis":null},"y":{"datum":1000,"type":"quantitative","scale":{"domain":[-390,1162],"range":[373,328],"nice":false,"zero":false}}}}
]},
{"data":{"values":[{}]},"mark":{"type":"rule","color":"#26272b","strokeWidth":1},"encoding":{"x":{"datum":111.92,"type":"quantitative","scale":{"domain":[-0.93,111.92],"nice":false,"zero":false},"axis":null}}},
{"data":{"values":[{}]},"mark":{"type":"rule","color":"#6f7075","strokeDash":[3,3],"strokeWidth":1},"encoding":{"x":{"datum":62,"type":"quantitative","scale":{"domain":[-0.93,111.92],"nice":false,"zero":false},"axis":null}}}
],
"resolve":{"scale":{"y":"independent"},"axis":{"y":"independent"}}
}
